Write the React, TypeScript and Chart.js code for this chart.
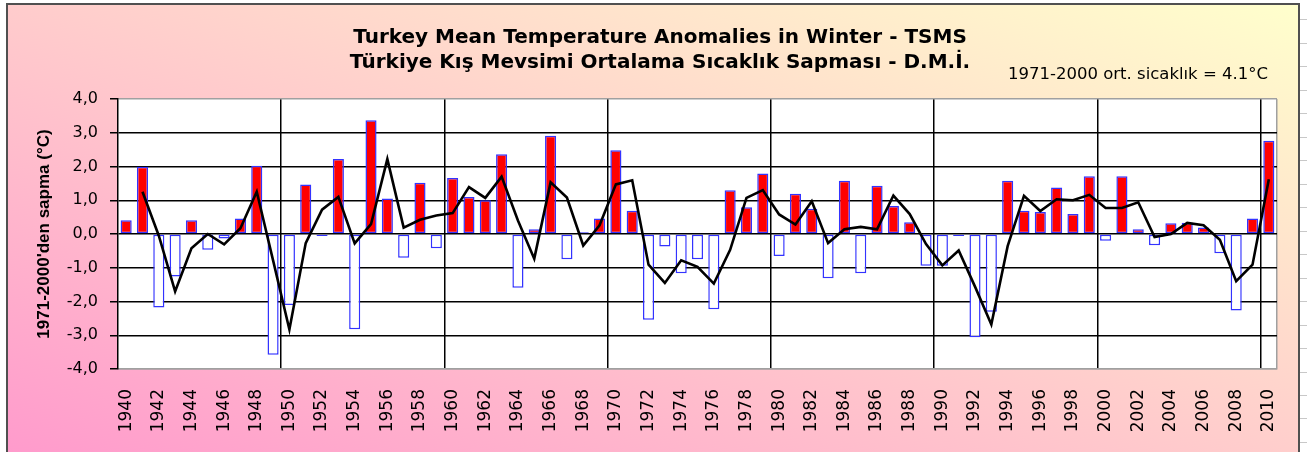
import React, { useEffect, useRef } from 'react';
import { Chart, registerables } from 'chart.js';

Chart.register(...registerables);

// ---------- DATA ----------
const years: string[] = [
  '1940', '1941', '1942', '1943', '1944', '1945', '1946', '1947', '1948', '1949',
  '1950', '1951', '1952', '1953', '1954', '1955', '1956', '1957', '1958', '1959',
  '1960', '1961', '1962', '1963', '1964', '1965', '1966', '1967', '1968', '1969',
  '1970', '1971', '1972', '1973', '1974', '1975', '1976', '1977', '1978', '1979',
  '1980', '1981', '1982', '1983', '1984', '1985', '1986', '1987', '1988', '1989',
  '1990', '1991', '1992', '1993', '1994', '1995', '1996', '1997', '1998', '1999',
  '2000', '2001', '2002', '2003', '2004', '2005', '2006', '2007', '2008', '2009',
  '2010',
];

// winter temperature anomaly (°C) relative to 1971-2000
const anomalies: number[] = [
  0.41, 1.99, -2.18, -1.26, 0.41, -0.47, -0.13, 0.46, 2.02, -3.58,
  -2.10, 1.47, -0.06, 2.22, -2.82, 3.37, 1.05, -0.70, 1.52, -0.42,
  1.66, 1.10, 1.00, 2.36, -1.59, 0.14, 2.91, -0.75, 0.05, 0.46,
  2.48, 0.69, -2.54, -0.37, -1.16, -0.75, -2.23, 1.30, 0.79, 1.79,
  -0.65, 1.19, 0.75, -1.31, 1.58, -1.16, 1.43, 0.83, 0.35, -0.94,
  -0.94, -0.06, -3.06, -2.30, 1.58, 0.69, 0.65, 1.38, 0.59, 1.71,
  -0.20, 1.71, 0.14, -0.33, 0.32, 0.33, 0.19, -0.57, -2.27, 0.46,
  2.76,
];

// black trend line (2-year moving average)
const trendLine: (number | null)[] = [
  null, 1.25, -0.05, -1.70, -0.42, 0.00, -0.31, 0.17, 1.25, -0.78,
  -2.83, -0.27, 0.72, 1.10, -0.28, 0.29, 2.22, 0.19, 0.42, 0.55,
  0.62, 1.39, 1.07, 1.70, 0.40, -0.73, 1.53, 1.08, -0.34, 0.26,
  1.47, 1.59, -0.91, -1.45, -0.78, -0.97, -1.47, -0.47, 1.07, 1.30,
  0.58, 0.28, 0.97, -0.27, 0.14, 0.21, 0.14, 1.14, 0.59, -0.30,
  -0.93, -0.49, -1.56, -2.68, -0.36, 1.13, 0.68, 1.03, 1.00, 1.16,
  0.77, 0.77, 0.94, -0.09, 0.00, 0.33, 0.26, -0.17, -1.40, -0.91,
  1.62,
];

const yMin = -4;
const yMax = 4;
const yStep = 1;

const titleLines: string[] = [
  'Turkey Mean Temperature Anomalies in Winter - TSMS',
  'Türkiye Kış Mevsimi Ortalama Sıcaklık Sapması - D.M.İ.',
];
const yAxisTitle = "1971-2000'den sapma (°C)";
const noteText = '1971-2000 ort. sicaklık = 4.1°C';

// ---------- STYLE ----------
const SANS = '"DejaVu Sans", "Liberation Sans", Arial, sans-serif';
const ARIAL = '"Liberation Sans", Arial, sans-serif';
const RED = '#FF0000';
const BLUE = '#3333FF';
const GREY = '#A0A0A0';

const CANVAS_W = 1290;
const CANVAS_H = 447;

export default function App() {
  const canvasRef = useRef<HTMLCanvasElement | null>(null);

  useEffect(() => {
    if (!canvasRef.current) return;

    const plotBg = {
      id: 'plotBg',
      beforeDraw(chart: any) {
        const { ctx, chartArea } = chart;
        ctx.save();
        ctx.fillStyle = '#FFFFFF';
        ctx.fillRect(chartArea.left, chartArea.top, chartArea.right - chartArea.left, chartArea.bottom - chartArea.top);
        ctx.restore();
      },
    };

    const noteLabel = {
      id: 'noteLabel',
      afterDraw(chart: any) {
        const { ctx, chartArea } = chart;
        ctx.save();
        ctx.font = '16.5px ' + SANS;
        ctx.fillStyle = '#000000';
        ctx.textAlign = 'right';
        ctx.textBaseline = 'middle';
        ctx.fillText(noteText, chartArea.right - 9, 70);
        ctx.restore();
      },
    };

    const chart = new Chart(canvasRef.current, {
      type: 'bar',
      data: {
        labels: years,
        datasets: [
          {
            type: 'line',
            label: 'trend',
            data: trendLine,
            borderColor: '#000000',
            borderWidth: 2.6,
            pointRadius: 0,
            tension: 0,
            fill: false,
            order: 0,
          } as any,
          {
            type: 'bar',
            label: 'anomaly',
            data: anomalies,
            backgroundColor: anomalies.map((v) => (v >= 0 ? RED : '#FFFFFF')),
            borderColor: BLUE,
            borderWidth: 1.5,
            borderSkipped: false,
            barPercentage: 0.68,
            categoryPercentage: 1,
            order: 1,
          } as any,
        ],
      },
      options: {
        animation: false,
        responsive: true,
        maintainAspectRatio: false,
        layout: { padding: { left: 35, right: 21, top: 0, bottom: 0 } },
        plugins: {
          legend: { display: false },
          tooltip: { enabled: false },
          title: {
            display: true,
            text: titleLines,
            color: '#000000',
            font: { family: SANS, size: 20, weight: 'bold', lineHeight: 1.25 },
            padding: { top: 20.5, bottom: 23.5 },
          },
        },
        scales: {
          x: {
            offset: true,
            afterFit: (scale: any) => {
              scale.height = 83;
              scale.paddingLeft = 0;
              scale.paddingRight = 0;
            },
            grid: {
              offset: true,
              drawTicks: false,
              lineWidth: 1.5,
              color: (ctx: any) => {
                if (ctx.type !== 'tick' || ctx.index === undefined) return GREY;
                const i = ctx.index;
                if (i > 0 && Number(years[i]) % 10 === 0) return '#000000';
                return 'rgba(0,0,0,0)';
              },
            },
            border: { display: true, color: GREY, width: 1.5 },
            ticks: {
              autoSkip: false,
              minRotation: 90,
              maxRotation: 90,
              padding: 20,
              color: '#000000',
              font: { family: SANS, size: 17 },
              callback: (_v: any, i: number) => (Number(years[i]) % 2 === 0 ? years[i] : ''),
            },
          },
          y: {
            min: yMin,
            max: yMax,
            afterFit: (scale: any) => {
              scale.width = 75;
            },
            grid: {
              lineWidth: 1.5,
              drawTicks: true,
              tickLength: 8,
              tickColor: '#000000',
              tickWidth: 1.5,
              color: (ctx: any) => {
                const v = ctx.tick ? ctx.tick.value : 0;
                return v === yMax || v === yMin ? GREY : '#000000';
              },
            },
            border: { display: true, color: '#000000', width: 1.5 },
            ticks: {
              stepSize: yStep,
              padding: 12,
              color: '#000000',
              font: { family: SANS, size: 16 },
              callback: (v: any) => Number(v).toFixed(1).replace('.', ','),
            },
            title: {
              display: true,
              text: yAxisTitle,
              color: '#000000',
              font: { family: ARIAL, size: 17, weight: 'bold', lineHeight: 1.2 },
              padding: { top: -9.2, bottom: 0 },
            },
          },
        },
      },
      plugins: [plotBg, noteLabel],
    });

    return () => {
      chart.destroy();
    };
  }, []);

  return (
    <div
      style={{
        position: 'fixed',
        left: 0,
        top: 0,
        width: 1307,
        height: 452,
        background: '#FFFFFF',
        overflow: 'hidden',
      }}
    >
      <div
        style={{
          position: 'absolute',
          left: 1300,
          top: 0,
          width: 7,
          height: 452,
          background:
            'repeating-linear-gradient(to bottom, transparent 0px, transparent 19.5px, #C8C8C8 19.5px, #C8C8C8 20.5px, transparent 20.5px, transparent 23.47px)',
        }}
      />
      <div
        style={{
          position: 'absolute',
          left: 6,
          top: 3,
          width: 1294,
          height: 470,
          boxSizing: 'border-box',
          border: '2px solid #505050',
          background: 'linear-gradient(to top right, #FF99CC 0%, #FFFFCC 100%)',
          overflow: 'hidden',
        }}
      >
        <div style={{ position: 'absolute', left: 0, top: 0, width: CANVAS_W, height: CANVAS_H }}>
          <canvas ref={canvasRef} />
        </div>
      </div>
    </div>
  );
}
